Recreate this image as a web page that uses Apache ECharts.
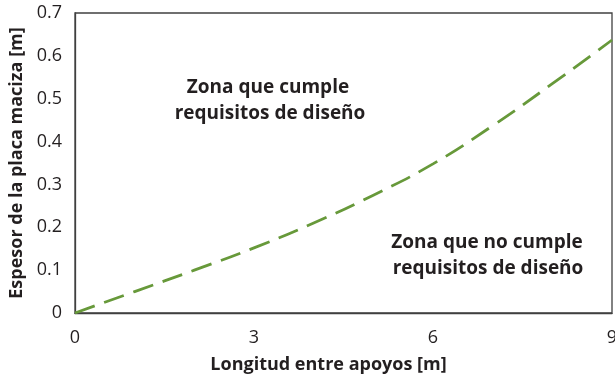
<!DOCTYPE html>
<html>
<head>
<meta charset="utf-8">
<script src="https://cdn.jsdelivr.net/npm/echarts@6/dist/echarts.min.js"></script>
<style>
  html, body { margin: 0; padding: 0; background: #fff; }
  #chart { width: 615px; height: 378px; }
</style>
</head>
<body>
<div id="chart"></div>
<script>
// longitud entre apoyos [m] y espesor de la placa [m]
var longitud = [0, 1, 2, 3, 4, 5, 6, 7, 8, 9];
var espesor = [0, 0.05, 0.1, 0.152, 0.21, 0.275, 0.348, 0.437, 0.535, 0.637];
var xTicks = [0, 3, 6, 9];
var yTicks = [0, 0.1, 0.2, 0.3, 0.4, 0.5, 0.6, 0.7];

var font = "'Open Sans', sans-serif";
var ink = "#231f20";
var chart = echarts.init(document.getElementById("chart"));

var puntos = longitud.map(function (x, i) { return [x, espesor[i]]; });

function zona(x, y, txt) {
  return {
    type: "text",
    x: x,
    y: y,
    style: {
      text: txt,
      fontFamily: font, fontWeight: "bold", fontSize: 19,
      fill: ink, align: "center", verticalAlign: "middle"
    }
  };
}

chart.setOption({
  animation: false,
  grid: {
    left: 75,
    right: 3,
    top: 13,
    bottom: 65,
    outerBoundsMode: "none",
    containLabel: false,
    show: true,
    borderColor: "#404040",
    borderWidth: 1.3
  },
  xAxis: {
    type: "value",
    min: 0,
    max: 9,
    interval: 3,
    name: "Longitud entre apoyos [m]",
    nameLocation: "middle",
    nameGap: 43,
    nameTextStyle: { fontFamily: font, fontWeight: "bold", fontSize: 18, color: ink, padding: [0, 30, 0, 0] },
    axisLine: { show: true, lineStyle: { color: "#404040", width: 1.3 } },
    axisTick: { show: false },
    splitLine: { show: false },
    axisLabel: {
      fontFamily: font, fontSize: 18, color: ink, margin: 16,
      formatter: function (v) { return xTicks.indexOf(v) >= 0 ? String(v) : ""; }
    }
  },
  yAxis: {
    type: "value",
    min: 0,
    max: 0.7,
    interval: 0.1,
    name: "Espesor de la placa maciza [m]",
    nameLocation: "middle",
    nameGap: 49,
    nameTextStyle: { fontFamily: font, fontWeight: "bold", fontSize: 18, color: ink },
    axisLine: { show: true, lineStyle: { color: "#404040", width: 1.3 } },
    axisTick: { show: false },
    splitLine: { show: false },
    axisLabel: {
      fontFamily: font, fontSize: 18, color: ink, margin: 13,
      formatter: function (v) {
        var r = Math.round(v * 10) / 10;
        return yTicks.indexOf(r) >= 0 ? (r === 0 ? "0" : r.toFixed(1)) : "";
      }
    }
  },
  series: [{
    type: "line",
    data: puntos,
    smooth: true,
    symbol: "none",
    lineStyle: { color: "#67993a", width: 2.8, type: [21, 10] }
  }],
  graphic: [
    zona(268, 88, "Zona que cumple"),
    zona(270, 114, "requisitos de diseño"),
    zona(487, 243, "Zona que no cumple"),
    zona(488, 269, "requisitos de diseño")
  ]
});
</script>
</body>
</html>
